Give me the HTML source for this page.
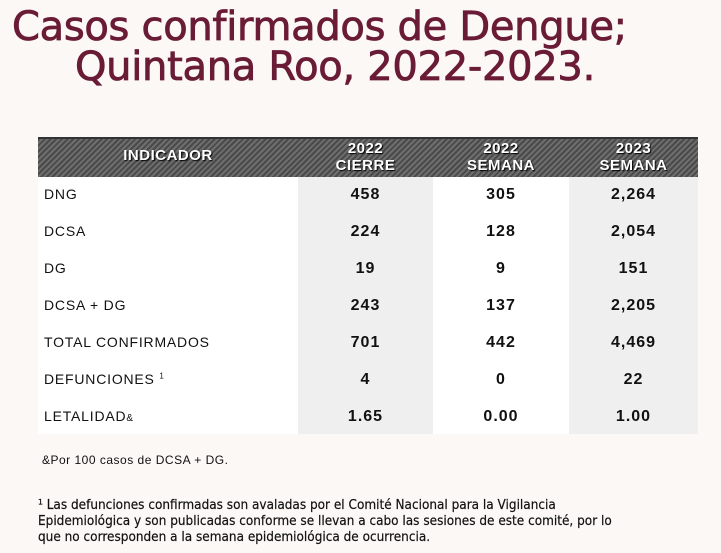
<!DOCTYPE html>
<html><head><meta charset="utf-8"><style>
body{margin:0;width:721px;height:553px;background:#fbf8f5;position:relative;overflow:hidden;font-family:"Liberation Sans",sans-serif}
.t{position:absolute;color:#6a1c36;font-size:40px;white-space:nowrap;letter-spacing:-0.3px;font-family:"DejaVu Sans","Liberation Sans",sans-serif;-webkit-text-stroke:0.8px #6a1c36}
.hdr{position:absolute;left:38px;top:137px;width:660px;height:38px;background:repeating-linear-gradient(135deg,#4a4a4a 0 2px,#6e6e6e 2px 4px);border-top:2px solid #333;border-bottom:2px solid #333}
.h{position:absolute;color:#fff;font-weight:bold;font-size:15px;text-align:center;line-height:17px;text-shadow:1px 1px 1px #000;letter-spacing:0.5px}
.g{position:absolute;top:177px;height:257px;background:#efefef}
.w{position:absolute;left:38px;top:177px;width:660px;height:257px;background:#fff}
.r{position:absolute;font-size:14px;letter-spacing:0.8px;color:#111}
.v{position:absolute;font-size:16px;font-weight:bold;text-align:center;color:#111;letter-spacing:1px}
.f{position:absolute;left:38px;font-size:13px;color:#111;font-family:"DejaVu Sans","Liberation Sans",sans-serif;transform:scaleX(0.93);transform-origin:left;white-space:nowrap}
</style></head><body>
<div class="t" style="left:12px;top:4px">Casos confirmados de Dengue;</div>
<div class="t" style="left:75px;top:44px">Quintana Roo, 2022-2023.</div>
<div class="hdr"></div>
<div class="h" style="left:38px;top:147px;width:260px">INDICADOR</div>
<div class="h" style="left:298px;top:140px;width:135px">2022<br>CIERRE</div>
<div class="h" style="left:433px;top:140px;width:136px">2022<br>SEMANA</div>
<div class="h" style="left:569px;top:140px;width:129px">2023<br>SEMANA</div>
<div class="w"></div>
<div class="g" style="left:298px;width:135px"></div>
<div class="g" style="left:569px;width:129px"></div>
<div class="r" style="left:44px;top:186px">DNG</div>
<div class="r" style="left:44px;top:223px">DCSA</div>
<div class="r" style="left:44px;top:260px">DG</div>
<div class="r" style="left:44px;top:297px">DCSA + DG</div>
<div class="r" style="left:44px;top:334px">TOTAL CONFIRMADOS</div>
<div class="r" style="left:44px;top:371px">DEFUNCIONES <sup style="font-size:8px">1</sup></div>
<div class="r" style="left:44px;top:408px">LETALIDAD<span style="font-size:10px">&amp;</span></div>
<div class="v" style="left:298px;width:135px;top:186px">458</div><div class="v" style="left:433px;width:136px;top:186px">305</div><div class="v" style="left:569px;width:129px;top:186px">2,264</div>
<div class="v" style="left:298px;width:135px;top:223px">224</div><div class="v" style="left:433px;width:136px;top:223px">128</div><div class="v" style="left:569px;width:129px;top:223px">2,054</div>
<div class="v" style="left:298px;width:135px;top:260px">19</div><div class="v" style="left:433px;width:136px;top:260px">9</div><div class="v" style="left:569px;width:129px;top:260px">151</div>
<div class="v" style="left:298px;width:135px;top:297px">243</div><div class="v" style="left:433px;width:136px;top:297px">137</div><div class="v" style="left:569px;width:129px;top:297px">2,205</div>
<div class="v" style="left:298px;width:135px;top:334px">701</div><div class="v" style="left:433px;width:136px;top:334px">442</div><div class="v" style="left:569px;width:129px;top:334px">4,469</div>
<div class="v" style="left:298px;width:135px;top:371px">4</div><div class="v" style="left:433px;width:136px;top:371px">0</div><div class="v" style="left:569px;width:129px;top:371px">22</div>
<div class="v" style="left:298px;width:135px;top:408px">1.65</div><div class="v" style="left:433px;width:136px;top:408px">0.00</div><div class="v" style="left:569px;width:129px;top:408px">1.00</div>
<div class="r" style="left:42px;top:453px;font-size:12px;letter-spacing:0.5px">&amp;Por 100 casos de DCSA + DG.</div>
<div class="f" style="top:498px;-webkit-text-stroke:0.2px #111">¹ Las defunciones confirmadas son avaladas por el Comité Nacional para la Vigilancia</div>
<div class="f" style="top:514px;-webkit-text-stroke:0.2px #111">Epidemiológica y son publicadas conforme se llevan a cabo las sesiones de este comité, por lo</div>
<div class="f" style="top:530px;-webkit-text-stroke:0.2px #111">que no corresponden a la semana epidemiológica de ocurrencia.</div>
</body></html>
